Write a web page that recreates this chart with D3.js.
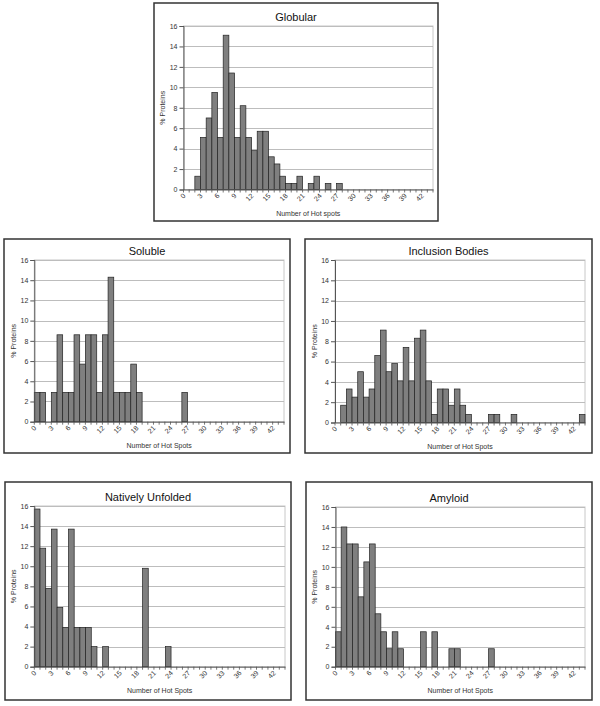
<!DOCTYPE html>
<html>
<head>
<meta charset="utf-8">
<script src="https://cdn.jsdelivr.net/npm/d3@7"></script>
<style>
  html, body { margin: 0; padding: 0; background: #fff; }
  svg { display: block; font-family: "Liberation Sans", Arial, sans-serif; }
</style>
</head>
<body>
<svg id="chart" width="600" height="706"></svg>
<script>
// ---------- data ----------
const hotSpots = d3.range(0, 44); // category axis 0..43
const xTickLabels = [0, 3, 6, 9, 12, 15, 18, 21, 24, 27, 30, 33, 36, 39, 42];
const yTicks = [0, 2, 4, 6, 8, 10, 12, 14, 16];

const titles = ["Globular", "Soluble", "Inclusion Bodies", "Natively Unfolded", "Amyloid"];
const xTitles = ["Number of Hot spots", "Number of Hot Spots", "Number of Hot Spots", "Number of Hot Spots", "Number of Hot Spots"];
const yTitle = "% Proteins";

const globular = [0, 0, 1.3, 5.1, 7.0, 9.5, 5.1, 15.1, 11.4, 5.1, 8.2, 5.1, 3.8, 5.7, 5.7, 3.2, 2.5, 1.3, 0.6, 0.6,
  1.3, 0, 0.6, 1.3, 0, 0.6, 0, 0.6, 0, 0, 0, 0, 0, 0, 0, 0, 0, 0, 0, 0, 0, 0, 0, 0];
const soluble = [2.9, 2.9, 0, 2.9, 8.6, 2.9, 2.9, 8.6, 5.7, 8.6, 8.6, 2.9, 8.6, 14.3, 2.9, 2.9, 2.9, 5.7, 2.9, 0,
  0, 0, 0, 0, 0, 0, 2.9, 0, 0, 0, 0, 0, 0, 0, 0, 0, 0, 0, 0, 0, 0, 0, 0, 0];
const inclusionBodies = [0, 1.7, 3.3, 2.5, 5.0, 2.5, 3.3, 6.6, 9.1, 5.0, 5.8, 4.1, 7.4, 4.1, 8.3, 9.1, 4.1, 0.8, 3.3, 3.3,
  1.7, 3.3, 1.7, 0.8, 0, 0, 0, 0.8, 0.8, 0, 0, 0.8, 0, 0, 0, 0, 0, 0, 0, 0, 0, 0, 0, 0.8];
const nativelyUnfolded = [15.7, 11.8, 7.8, 13.7, 5.9, 3.9, 13.7, 3.9, 3.9, 3.9, 2.0, 0, 2.0, 0, 0, 0, 0, 0, 0, 9.8,
  0, 0, 0, 2.0, 0, 0, 0, 0, 0, 0, 0, 0, 0, 0, 0, 0, 0, 0, 0, 0, 0, 0, 0, 0];
const amyloid = [3.5, 14.0, 12.3, 12.3, 7.0, 10.5, 12.3, 5.3, 3.5, 1.8, 3.5, 1.8, 0, 0, 0, 3.5, 0, 3.5, 0, 0,
  1.8, 1.8, 0, 0, 0, 0, 0, 1.8, 0, 0, 0, 0, 0, 0, 0, 0, 0, 0, 0, 0, 0, 0, 0, 0];

const seriesList = [globular, soluble, inclusionBodies, nativelyUnfolded, amyloid];

// ---------- layout ----------
const panels = [
  { box: [154, 3, 438, 221],   plot: [183.5, 26, 433, 189.5] },
  { box: [4, 239, 290, 453],   plot: [34.3, 260, 284, 421.7] },
  { box: [305, 239, 592, 453], plot: [335, 260, 585, 422.5] },
  { box: [5, 482, 291, 700],   plot: [34.3, 506, 285, 666.7] },
  { box: [306, 482, 592, 700], plot: [335.5, 507, 585, 666.7] }
];

const svg = d3.select("#chart");

panels.forEach((p, i) => {
  const values = seriesList[i];
  const [bx0, by0, bx1, by1] = p.box;
  const [px0, py0, px1, py1] = p.plot;
  const g = svg.append("g");

  // outer frame
  g.append("rect")
    .attr("x", bx0).attr("y", by0)
    .attr("width", bx1 - bx0).attr("height", by1 - by0)
    .attr("fill", "#fff").attr("stroke", "#333").attr("stroke-width", 1.5);

  const x = d3.scaleBand().domain(hotSpots).range([px0, px1]).padding(0);
  const y = d3.scaleLinear().domain([0, 16]).range([py1, py0]);

  // plot area border (light)
  g.append("rect")
    .attr("x", px0).attr("y", py0)
    .attr("width", px1 - px0).attr("height", py1 - py0)
    .attr("fill", "none").attr("stroke", "#c8c8c8").attr("stroke-width", 1);

  // gridlines
  g.append("g").selectAll("line")
    .data(yTicks.filter(t => t > 0))
    .join("line")
    .attr("x1", px0).attr("x2", px1)
    .attr("y1", d => Math.round(y(d)) + 0.5).attr("y2", d => Math.round(y(d)) + 0.5)
    .attr("stroke", "#bdbdbd").attr("stroke-width", 1);

  // bars
  g.append("g").selectAll("rect")
    .data(hotSpots.filter(c => values[c] > 0))
    .join("rect")
    .attr("x", c => x(c))
    .attr("y", c => y(values[c]))
    .attr("width", x.bandwidth())
    .attr("height", c => y(0) - y(values[c]))
    .attr("fill", "#7f7f7f")
    .attr("stroke", "#222")
    .attr("stroke-width", 0.7);

  // y axis
  const yAxis = g.append("g")
    .attr("transform", `translate(${px0},0)`)
    .call(d3.axisLeft(y).tickValues(yTicks).tickSize(4).tickPadding(2).tickFormat(d3.format("d")));
  yAxis.select(".domain").attr("stroke", "#555");
  yAxis.selectAll(".tick line").attr("stroke", "#555");
  yAxis.selectAll("text").attr("font-size", 7).attr("fill", "#333")
    .attr("font-family", "'Liberation Sans', Arial, sans-serif");

  // x axis: labels every 3 categories
  const xAxis = g.append("g")
    .attr("transform", `translate(0,${py1})`)
    .call(d3.axisBottom(x).tickValues(xTickLabels).tickSize(0).tickPadding(0));
  xAxis.select(".domain").attr("stroke", "#555");
  xAxis.selectAll("text")
    .attr("font-size", 7).attr("fill", "#333")
    .attr("font-family", "'Liberation Sans', Arial, sans-serif")
    .attr("x", 0).attr("y", 0).attr("dy", "0.35em")
    .attr("text-anchor", "end")
    .attr("transform", "translate(-2,5) rotate(-45)");

  // small tick marks at category boundaries
  const boundaries = hotSpots.map(c => x(c)).concat([x(hotSpots[hotSpots.length - 1]) + x.bandwidth()]);
  g.append("g").selectAll("line")
    .data(boundaries)
    .join("line")
    .attr("x1", d => d).attr("x2", d => d)
    .attr("y1", py1).attr("y2", py1 + 3)
    .attr("stroke", "#555").attr("stroke-width", 0.8);

  // title (centred on the frame)
  g.append("text")
    .attr("x", (bx0 + bx1) / 2)
    .attr("y", py0 - 5)
    .attr("text-anchor", "middle")
    .attr("font-size", 11).attr("fill", "#111")
    .text(titles[i]);

  // x-axis title
  g.append("text")
    .attr("x", (px0 + px1) / 2)
    .attr("y", py1 + 26.5)
    .attr("text-anchor", "middle")
    .attr("font-size", 7).attr("fill", "#333")
    .text(xTitles[i]);

  // y-axis title
  g.append("text")
    .attr("transform", `translate(${px0 - 18.5},${(py0 + py1) / 2}) rotate(-90)`)
    .attr("text-anchor", "middle")
    .attr("font-size", 7).attr("fill", "#333")
    .text(yTitle);
});
</script>
</body>
</html>
